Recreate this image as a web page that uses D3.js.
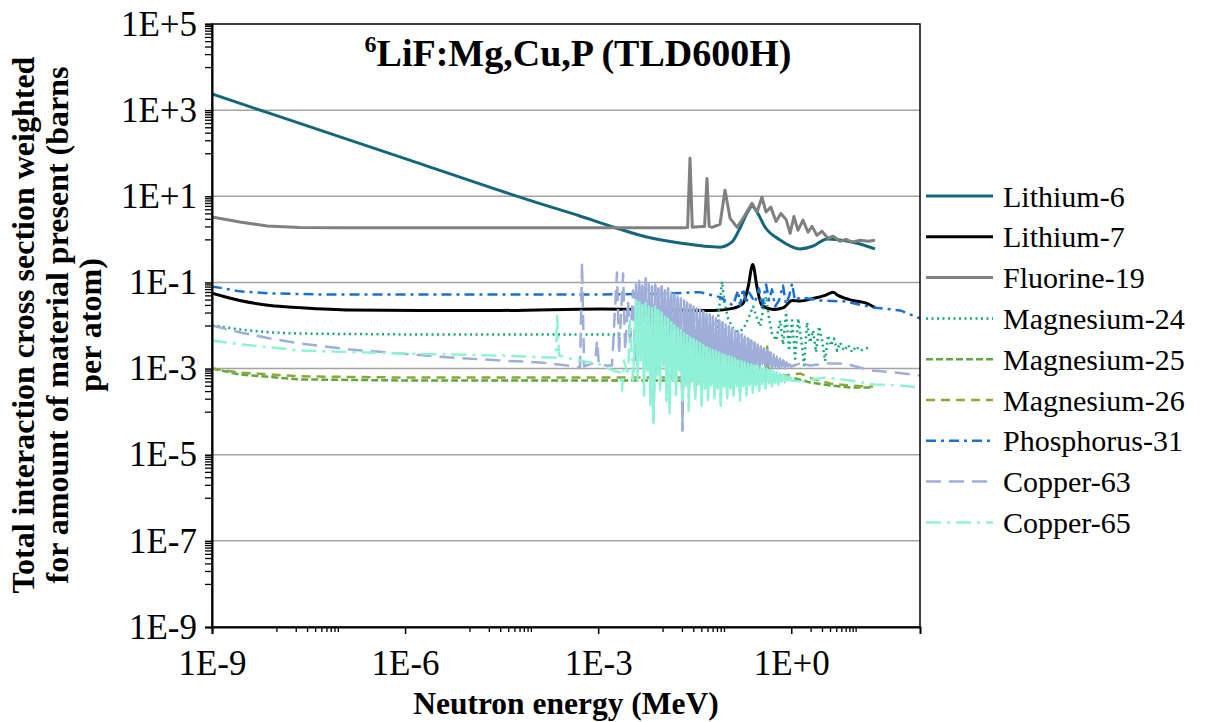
<!DOCTYPE html>
<html><head><meta charset="utf-8">
<script src="https://cdn.jsdelivr.net/npm/d3@7"></script>
<style>
body{margin:0;background:#fff}
svg{display:block}
text{font-family:"Liberation Serif","Times New Roman",serif;fill:#000}
</style>
</head><body>
<svg id="chart" width="1205" height="722"></svg>
<script>
// ---- data: [neutron energy (MeV), weighted cross section (barns per atom)] ----
const lithium6 = [[1e-9,2370],[1e-6,75],[1e-4,7.5],[5.2e-4,3.48],[1.7e-3,1.94],[5.7e-3,1.13],[0.0187,0.82],[0.078,0.66],[0.12,0.87],[0.16,1.84],[0.206,4.1],[0.246,5.9],[0.294,4.3],[0.39,1.94],[0.67,0.97],[1.37,0.60],[2.18,0.70],[3.6,1.02],[7.3,0.92],[11.7,0.78],[20,0.60]];
const lithium7 = [[1e-9,0.056],[2.7e-9,0.038],[8e-9,0.029],[2.3e-8,0.026],[1.4e-7,0.023],[1.7e-6,0.0224],[3e-5,0.0224],[1.07e-3,0.0243],[0.061,0.0224],[0.124,0.025],[0.178,0.0325],[0.213,0.0766],[0.252,0.26],[0.294,0.0766],[0.35,0.029],[0.53,0.0236],[0.76,0.026],[1.03,0.038],[1.37,0.037],[2.18,0.0425],[3.35,0.050],[4.46,0.059],[5.33,0.050],[9.1,0.038],[15,0.0325],[20,0.026]];
const fluorine19 = [[1e-9,3.3],[2.7e-9,2.53],[7.2e-9,2.04],[2.3e-8,1.88],[1e-7,1.85],[0.0223,1.85],[0.0245,1.9],[0.0267,76],[0.029,1.9],[0.041,2.0],[0.045,2.0],[0.049,26],[0.053,2.0],[0.0587,1.9],[0.078,2.24],[0.0935,13.8],[0.112,3.1],[0.144,1.9],[0.185,3.4],[0.245,6.9],[0.294,4.3],[0.35,9.5],[0.405,4.3],[0.48,5.6],[0.58,2.6],[0.69,4.0],[0.83,2.9],[0.96,1.38],[1.1,3.4],[1.27,1.62],[1.52,2.8],[1.82,1.46],[2.1,2.0],[2.5,1.24],[3.0,1.54],[3.7,1.06],[4.5,1.18],[5.7,0.90],[7.1,1.0],[8.8,0.86],[11.7,0.95],[15.6,0.90],[20,0.95]];
const magnesium24 = [[1e-9,0.010],[2.7e-9,0.0081],[8e-9,0.0069],[2.3e-8,0.0065],[1e-6,0.0062],[0.0679,0.0062],[0.0783,0.0381],[0.0841,0.105],[0.0904,0.0381],[0.104,0.0146],[0.125,0.0085],[0.155,0.0069],[0.185,0.0090],[0.221,0.0162],[0.255,0.0277],[0.294,0.0146],[0.328,0.0095],[0.365,0.0223],[0.406,0.0472],[0.452,0.0146],[0.503,0.0065],[0.581,0.0045],[0.670,0.0131],[0.746,0.0036],[0.830,0.0201],[0.925,0.0026],[1.03,0.0131],[1.15,0.0017],[1.28,0.0146],[1.42,0.0050],[1.58,0.0012],[1.76,0.0118],[1.96,0.0040],[2.18,0.0077],[2.43,0.0024],[2.70,0.0095],[3.01,0.0045],[3.35,0.0015],[3.73,0.0059],[4.15,0.0034],[4.62,0.0050],[5.15,0.0026],[5.73,0.0040],[6.61,0.0026],[7.63,0.0036],[8.81,0.0024],[10.2,0.0033],[11.7,0.0026],[14.0,0.0029],[16.8,0.0031]];
const magnesium25 = [[1e-9,1.0e-3],[2.7e-9,7.3e-4],[2.3e-8,5.6e-4],[8.4e-7,5.3e-4],[1.07e-3,5.3e-4],[1.3e-2,5.3e-4],[1.41e-2,9.0e-4],[1.5e-2,5.3e-4],[0.0383,5.0e-4],[0.160,4.76e-4],[0.327,5.3e-4],[0.670,6.56e-4],[1.15,5.89e-4],[1.96,4.76e-4],[4.0,4.06e-4],[8.2,3.64e-4],[18.6,3.64e-4]];
const magnesium26 = [[1e-9,1.0e-3],[2.7e-9,8.1e-4],[2.3e-8,6.6e-4],[8.4e-7,6.2e-4],[1.07e-3,6.2e-4],[0.0383,6.2e-4],[0.191,6.2e-4],[0.213,5.0e-3],[0.229,6.2e-4],[0.392,5.9e-4],[0.421,3.44e-3],[0.452,5.9e-4],[0.801,6.9e-4],[1.37,7.7e-4],[2.11,5.9e-4],[4.0,4.5e-4],[8.2,4.06e-4],[18.6,3.8e-4]];
const phosphorus31 = [[1e-9,0.081],[2.7e-9,0.062],[8e-9,0.0556],[4.8e-8,0.0526],[1.07e-3,0.0526],[9.1e-3,0.0546],[0.038,0.0595],[0.078,0.0456],[0.124,0.0292],[0.149,0.065],[0.160,0.0292],[0.178,0.0726],[0.198,0.0325],[0.221,0.0586],[0.273,0.0343],[0.315,0.0726],[0.352,0.0263],[0.406,0.090],[0.452,0.0382],[0.503,0.0689],[0.560,0.0277],[0.645,0.0382],[0.744,0.0851],[0.829,0.0308],[0.923,0.0473],[1.03,0.0948],[1.14,0.0382],[1.37,0.0449],[2.8,0.0382],[6.8,0.0362],[18.6,0.0263],[49,0.0224],[100,0.0146]];

// copper: smooth low-energy part, dense resolved-resonance band (shared energy grid), smooth high-energy part
const copper63Low = [[1e-9,0.0100],[2.73e-9,6.89e-3],[7.98e-9,5.0e-3],[2.33e-8,3.83e-3],[1.4e-7,2.78e-3],[8.35e-7,2.24e-3],[5.0e-6,1.81e-3],[2.99e-5,1.54e-3],[1.25e-4,1.39e-3],[4.38e-4,1.12e-3],[5.23e-4,1.05e-3],[5.61e-4,0.291],[6.04e-4,1.12e-3],[8.94e-4,1.39e-3],[9.61e-4,4.5e-3],[1.03e-3,1.18e-3],[1.64e-3,1.18e-3],[1.96e-3,0.170],[2.11e-3,2.24e-3],[2.44e-3,0.162],[2.62e-3,2.63e-3],[2.91e-3,0.0381],[3.13e-3,3.44e-3],[3.48e-3,0.0652],[3.74e-3,1.54e-3]];
const copper65Low = [[1e-9,4.5e-3],[2.73e-9,3.63e-3],[7.98e-9,3.1e-3],[2.33e-8,2.63e-3],[8.35e-7,2.24e-3],[2.99e-5,2.01e-3],[1.79e-4,1.81e-3],[2.22e-4,1.81e-3],[2.30e-4,0.0190],[2.47e-4,2.01e-3],[3.66e-4,1.72e-3],[6.25e-4,1.46e-3],[1.07e-3,1.24e-3],[1.70e-3,9.03e-4],[2.19e-3,8.12e-4],[2.35e-3,3.1e-4],[2.52e-3,1.54e-3],[2.91e-3,6.92e-4],[3.13e-3,0.0131],[3.48e-3,5.3e-4]];
const cuBandEnergies = [3.88e-3,4.11e-3,4.35e-3,4.60e-3,4.87e-3,5.16e-3,5.47e-3,5.79e-3,6.13e-3,6.49e-3,6.87e-3,7.28e-3,7.70e-3,8.16e-3,8.64e-3,9.15e-3,9.69e-3,1.03e-2,1.09e-2,1.15e-2,1.22e-2,1.29e-2,1.37e-2,1.45e-2,1.53e-2,1.62e-2,1.72e-2,1.82e-2,1.93e-2,2.04e-2,2.16e-2,2.29e-2,2.42e-2,2.56e-2,2.71e-2,2.87e-2,3.04e-2,3.22e-2,3.41e-2,3.61e-2,3.83e-2,4.05e-2,4.29e-2,4.54e-2,4.81e-2,5.09e-2,5.40e-2,5.71e-2,6.05e-2,6.41e-2,6.78e-2,7.18e-2,7.61e-2,8.05e-2,8.53e-2,9.03e-2,9.56e-2,0.101,0.107,0.114,0.120,0.127,0.135,0.143,0.151,0.160,0.170,0.180,0.190,0.201,0.213,0.226,0.239,0.253,0.268,0.284,0.301,0.318,0.337,0.357,0.378,0.400,0.424,0.449,0.475,0.503,0.533,0.564,0.597,0.632,0.670,0.709,0.751,0.795,0.842,0.892,0.944,1.00];
const copper63Band = [0.0897,0.00767,0.111,0.00263,0.0850,0.0131,0.124,0.00118,0.0946,0.00449,0.0806,6.24e-5,0.0897,0.00344,0.0724,0.00154,0.0806,0.00587,0.0651,9.04e-4,0.0724,0.00263,0.0585,5.30e-4,0.0526,0.00344,0.0472,0.00118,0.0424,3.66e-5,0.0381,0.00202,0.0343,6.92e-4,0.0308,0.00263,0.0277,2.38e-4,0.0249,0.00154,0.0236,5.30e-4,0.0212,0.00202,0.0190,4.06e-4,0.0180,0.00154,0.0162,5.89e-4,0.0146,0.00139,0.0131,5.30e-4,0.0118,0.00118,0.0106,4.06e-4,0.0095,0.00112,0.00853,5.89e-4,0.00767,0.00101,0.00689,5.30e-4,0.00619,0.00112,0.00557,6.56e-4,0.00500,0.00112,0.00449,8.12e-4,0.00404,0.00125,0.00363,9.04e-4,0.00326,0.00125,0.00293,0.00101,0.00263,0.00118,0.00237,0.00101,0.00213,0.00112,0.00191,0.00101,0.00172,0.00112,0.00154,0.00101,0.00139,0.00112,0.00125,0.00112];
const copper65Band = [0.0381,5.30e-4,0.0343,0.00154,0.0292,2.38e-4,0.0325,9.04e-4,0.0277,1.39e-4,0.0249,5.32e-5,0.0277,6.92e-4,0.0223,3.10e-4,0.0201,0.00118,0.0162,1.82e-4,0.0146,9.07e-5,0.0118,5.30e-4,0.0100,2.38e-4,0.00853,9.04e-4,0.00767,1.82e-4,0.00653,4.06e-4,0.00587,1.07e-4,0.00528,5.30e-4,0.00474,2.02e-4,0.00426,4.06e-4,0.00383,1.39e-4,0.00344,3.45e-4,0.00310,1.82e-4,0.00293,4.06e-4,0.00263,2.02e-4,0.00250,3.45e-4,0.00237,1.39e-4,0.00213,3.84e-4,0.00202,2.02e-4,0.00191,3.45e-4,0.00181,2.38e-4,0.00172,3.84e-4,0.00154,1.82e-4,0.00146,3.84e-4,0.00139,2.38e-4,0.00131,4.06e-4,0.00125,2.79e-4,0.00118,4.06e-4,0.00112,3.10e-4,0.00106,4.28e-4,0.00101,3.45e-4,9.55e-4,4.51e-4,9.04e-4,3.84e-4,8.57e-4,4.76e-4,8.12e-4,4.28e-4,7.69e-4,5.02e-4,7.30e-4,4.76e-4,6.92e-4,5.30e-4,6.56e-4,5.30e-4];
const copper63High = [[1.37,1.31e-3],[1.96,1.18e-3],[3.47,1.31e-3],[6.85,1.31e-3],[16.8,9.03e-4],[40.9,8.12e-4],[100,6.92e-4]];
const copper65High = [[1.37,5.02e-4],[3.47,6.22e-4],[8.2,5.3e-4],[20,4.28e-4],[49,4.06e-4],[100,3.64e-4]];

const seriesNames = ["Lithium-6","Lithium-7","Fluorine-19","Magnesium-24","Magnesium-25","Magnesium-26","Phosphorus-31","Copper-63","Copper-65"];
const seriesColors = ["#14667c","#000000","#808080","#12a67a","#5ea83e","#8fa63a","#1a70d0","#9eaed8","#8ff2d6"];

const xTickValues = [1e-9,1e-6,1e-3,1e0];
const xTickLabels = ["1E-9","1E-6","1E-3","1E+0"];
const yTickValues = [1e-9,1e-7,1e-5,1e-3,1e-1,1e1,1e3,1e5];
const yTickLabels = ["1E-9","1E-7","1E-5","1E-3","1E-1","1E+1","1E+3","1E+5"];
const xMinorTicks = [1e-8,2e-8,3e-8,4e-8,5e-8,6e-8,7e-8,8e-8,9e-8,1e-5,2e-5,3e-5,4e-5,5e-5,6e-5,7e-5,8e-5,9e-5,1e-2,2e-2,3e-2,4e-2,5e-2,6e-2,7e-2,8e-2,9e-2,2,3,4,5,6,7,8,9,10];
const yMinorDecades = [1e-8,1e-6,1e-4,1e-2,1e0,1e2,1e4];
const yMinorMultipliers = [1,2,3,4,5,6,7,8,9];

const titleSup = "6";
const titleMain = "LiF:Mg,Cu,P (TLD600H)";
const xTitle = "Neutron energy (MeV)";
const yTitleLines = ["Total interaction cross section weighted","for amount of material present (barns","per atom)"];

// ---- assemble copper series ----
const copper63BandPts = cuBandEnergies.map((e,i)=>[e,copper63Band[i]]);
const copper65BandPts = cuBandEnergies.map((e,i)=>[e,copper65Band[i]]);
const copper63 = copper63Low.concat(copper63BandPts, copper63High);
const copper65 = copper65Low.concat(copper65BandPts, copper65High);

// ---- styles ----
const widths = [3,3,3,2.5,2.5,2.5,2.5,2.5,2.5];
const dashes = [null,null,null,"2,3.5","7,3","9,6","10,5,3,5","15,8","15,6,3,6"];
const allSeries = [lithium6,lithium7,fluorine19,magnesium24,magnesium25,magnesium26,phosphorus31,copper63,copper65];
const denseBands = {7:[copper63Low[copper63Low.length-1]].concat(copper63BandPts,[copper63High[0]]),
                    8:[copper65Low[copper65Low.length-1]].concat(copper65BandPts,[copper65High[0]])};

const svg = d3.select("#chart");
svg.append("rect").attr("width",1205).attr("height",722).attr("fill","#fff");

const L=212, R=920, T=24, B=627;
const x = d3.scaleLog().domain([1e-9,1e2]).range([L,R]);
const y = d3.scaleLog().domain([1e-9,1e5]).range([B,T]);

// gridlines
svg.append("g").selectAll("line").data(yTickValues.filter(v=>v>1e-9 && v<1e5)).join("line")
  .attr("x1",L).attr("x2",R).attr("y1",d=>y(d)).attr("y2",d=>y(d))
  .attr("stroke","#a3a3a3").attr("stroke-width",1.5);

// series
svg.append("clipPath").attr("id","pc").append("rect").attr("x",L).attr("y",T).attr("width",R-L).attr("height",B-T);
const gS = svg.append("g").attr("clip-path","url(#pc)");
allSeries.forEach((data,i)=>{
  const curve = (i<2) ? d3.curveMonotoneX : d3.curveLinear;
  const line = d3.line().x(d=>x(d[0])).y(d=>y(d[1])).curve(curve);
  gS.append("path").datum(data).attr("d",line).attr("fill","none")
    .attr("stroke",seriesColors[i]).attr("stroke-width",widths[i])
    .attr("stroke-dasharray",dashes[i]).attr("stroke-linejoin","round");
  if (denseBands[i]) {
    // the densely packed resonance region reads as a continuous band
    gS.append("path").datum(denseBands[i]).attr("d",line).attr("fill","none")
      .attr("stroke",seriesColors[i]).attr("stroke-width",2.2).attr("stroke-linejoin","round");
  }
});

// frame
svg.append("rect").attr("x",L).attr("y",T).attr("width",R-L).attr("height",B-T)
  .attr("fill","none").attr("stroke","#000").attr("stroke-width",1.5);

// x axis
const xAxis = d3.axisBottom(x).tickValues(xTickValues).tickFormat((d,i)=>xTickLabels[i]).tickSize(7);
const gx = svg.append("g").attr("transform",`translate(0,${B})`).call(xAxis);
gx.select(".domain").attr("stroke","#000").attr("stroke-width",2);
gx.selectAll(".tick line").attr("stroke","#000").attr("stroke-width",1.5);
gx.selectAll(".tick text").attr("font-size",35).attr("y",0).attr("dy",48);
const xMinor = d3.axisBottom(x).tickValues(xMinorTicks).tickFormat("").tickSize(5);
const gxm = svg.append("g").attr("transform",`translate(0,${B})`).call(xMinor);
gxm.select(".domain").remove();
gxm.selectAll(".tick line").attr("stroke","#000").attr("stroke-width",1.3);

// y axis
const yAxis = d3.axisLeft(y).tickValues(yTickValues).tickFormat((d,i)=>yTickLabels[i]).tickSize(7);
const gy = svg.append("g").attr("transform",`translate(${L},0)`).call(yAxis);
gy.select(".domain").attr("stroke","#000").attr("stroke-width",2);
gy.selectAll(".tick line").attr("stroke","#000").attr("stroke-width",1.5);
gy.selectAll(".tick text").attr("font-size",35).attr("x",-15);
const yMinorVals = [];
yMinorDecades.forEach(d=>yMinorMultipliers.forEach(m=>yMinorVals.push(d*m)));
const yMinor = d3.axisLeft(y).tickValues(yMinorVals).tickFormat("").tickSize(7);
const gym = svg.append("g").attr("transform",`translate(${L},0)`).call(yMinor);
gym.select(".domain").remove();
gym.selectAll(".tick line").attr("stroke","#000").attr("stroke-width",1.3);

// title
const tt = svg.append("text").attr("x",578).attr("y",66).attr("text-anchor","middle")
  .attr("font-size",38).attr("font-weight","bold");
tt.append("tspan").attr("font-size",24).attr("dy",-14).text(titleSup);
tt.append("tspan").attr("dy",14).text(titleMain);

// x title
svg.append("text").attr("x",566).attr("y",714).attr("text-anchor","middle")
  .attr("font-size",31.5).attr("font-weight","bold").text(xTitle);

// y title
const ytBase = [34,67.5,101];
yTitleLines.forEach((t,i)=>{
  svg.append("text").attr("transform",`translate(${ytBase[i]},325) rotate(-90)`)
    .attr("text-anchor","middle").attr("font-size",32).attr("font-weight","bold").text(t);
});

// legend
const lg = svg.append("g");
seriesNames.forEach((n,i)=>{
  const yy = 196 + i*40.8;
  lg.append("line").attr("x1",926).attr("x2",993).attr("y1",yy).attr("y2",yy)
    .attr("stroke",seriesColors[i]).attr("stroke-width",widths[i]).attr("stroke-dasharray",dashes[i]);
  lg.append("text").attr("x",1003).attr("y",yy).attr("dy","0.35em").attr("font-size",30).text(n);
});
</script>
</body></html>
